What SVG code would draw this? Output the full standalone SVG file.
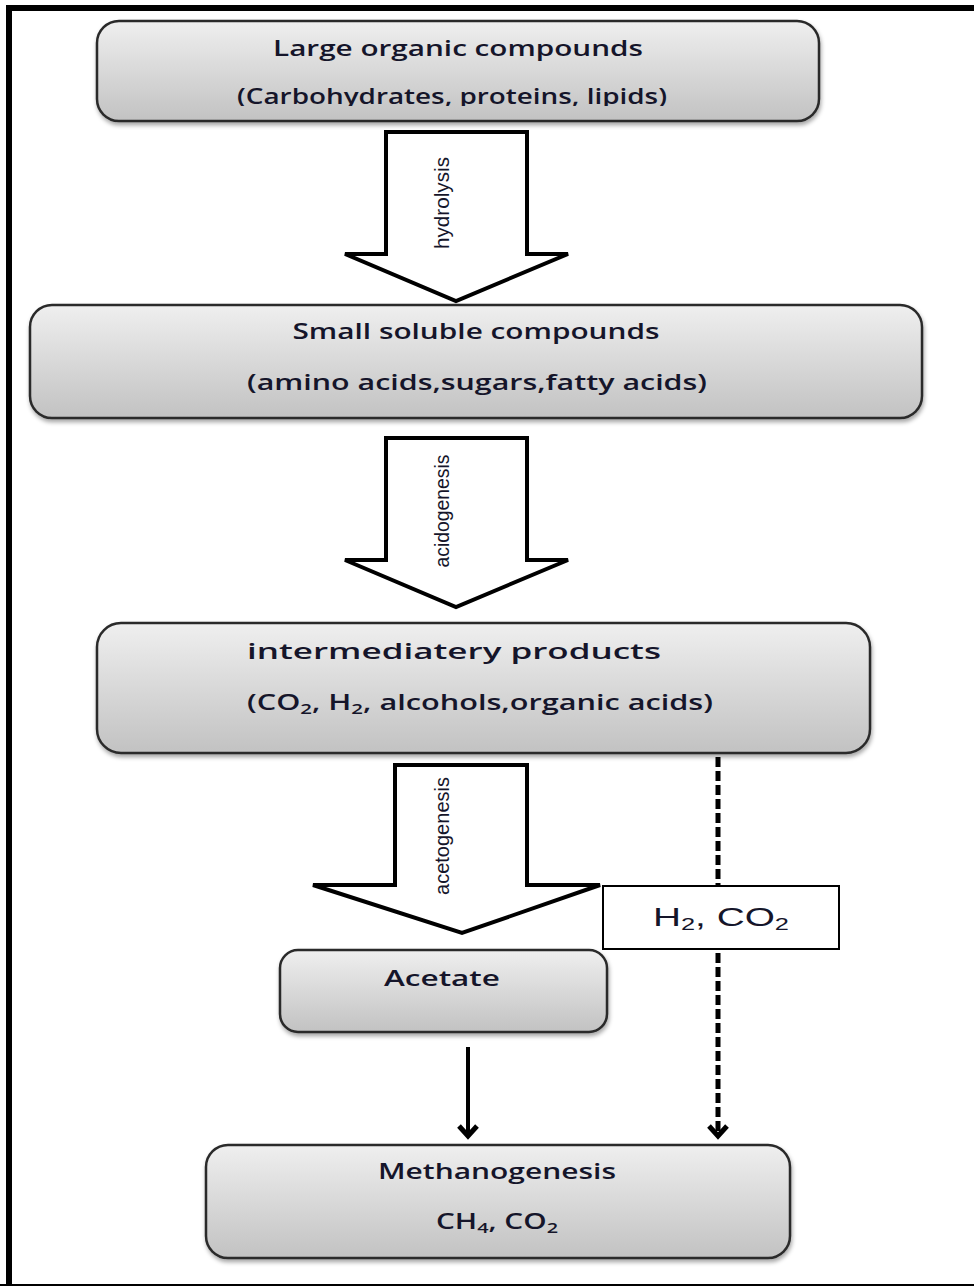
<svg xmlns="http://www.w3.org/2000/svg" width="974" height="1286" viewBox="0 0 974 1286">
<defs>
<linearGradient id="g" x1="0" y1="0" x2="0" y2="1">
<stop offset="0" stop-color="#efefef"/>
<stop offset="1" stop-color="#c2c2c2"/>
</linearGradient>
<filter id="sh" x="-5%" y="-10%" width="110%" height="130%">
<feDropShadow dx="1" dy="3" stdDeviation="2" flood-color="#000" flood-opacity="0.35"/>
</filter>
<clipPath id="clip1"><rect x="90" y="20" width="740" height="86"/></clipPath>
<style>
.box{fill:url(#g);stroke:#2b2b2b;stroke-width:2.5;filter:url(#sh)}
.t{font-family:"Open Sans","Liberation Sans",sans-serif;font-weight:600;font-size:21px;fill:#15152a;text-anchor:middle}
.v{font-family:"Liberation Sans","DejaVu Sans",sans-serif;font-size:20px;fill:#15152a;text-anchor:middle}
.blk{fill:#fff;stroke:#000;stroke-width:4;stroke-linejoin:miter}
.sub{font-size:14px}
.head{fill:none;stroke:#000;stroke-width:5;stroke-linejoin:miter}
</style>
</defs>
<rect x="0" y="0" width="974" height="1286" fill="#fff"/>
<g id="frame">
<path d="M9,1286 V8 H974" fill="none" stroke="#000" stroke-width="6"/>
<line x1="0" y1="1285" x2="974" y2="1285" stroke="#000" stroke-width="2"/>
</g>
<g id="connectors">
<g id="arrow-hydrolysis">
<path class="blk" d="M386,132 H527 V254 H568 L456,301 L345,254 H386 Z"/>
<text class="v" transform="translate(449,203) rotate(-90)" textLength="92" lengthAdjust="spacingAndGlyphs">hydrolysis</text>
</g>
<g id="arrow-acidogenesis">
<path class="blk" d="M386,438 H527 V560 H568 L456,607 L345,560 H386 Z"/>
<text class="v" transform="translate(449,511) rotate(-90)" textLength="113" lengthAdjust="spacingAndGlyphs">acidogenesis</text>
</g>
<g id="arrow-acetogenesis">
<path class="blk" d="M395,765 H527 V885 H600 L462,933 L313,885 H395 Z"/>
<text class="v" transform="translate(449,836) rotate(-90)" textLength="118" lengthAdjust="spacingAndGlyphs">acetogenesis</text>
</g>
<g id="dashed-arrow">
<line x1="718" y1="757" x2="718" y2="1136" stroke="#000" stroke-width="5" stroke-dasharray="10,4"/>
<path class="head" d="M709,1126 L718,1136 L727,1126"/>
</g>
<g id="solid-arrow">
<line x1="468" y1="1047" x2="468" y2="1136" stroke="#000" stroke-width="4"/>
<path class="head" d="M459,1126 L468,1136 L477,1126"/>
</g>
</g>
<g id="n1">
<rect class="box" x="97" y="21" width="722" height="100" rx="22"/>
<text class="t" x="458" y="56" textLength="370" lengthAdjust="spacingAndGlyphs">Large organic  compounds</text>
<text class="t" x="452" y="104" textLength="430" lengthAdjust="spacingAndGlyphs" clip-path="url(#clip1)">(Carbohydrates, proteins, lipids)</text>
</g>
<g id="n2">
<rect class="box" x="30" y="305" width="892" height="113" rx="22"/>
<text class="t" x="476" y="339" textLength="367" lengthAdjust="spacingAndGlyphs">Small soluble  compounds</text>
<text class="t" x="477" y="390" textLength="460" lengthAdjust="spacingAndGlyphs">(amino acids,sugars,fatty acids)</text>
</g>
<g id="n3">
<rect class="box" x="97" y="623" width="773" height="130" rx="24"/>
<text class="t" x="454" y="659" textLength="414" lengthAdjust="spacingAndGlyphs">intermediatery products</text>
<text class="t" x="480" y="710" textLength="466" lengthAdjust="spacingAndGlyphs">(CO<tspan class="sub" dy="4">2</tspan><tspan dy="-4">, H</tspan><tspan class="sub" dy="4">2</tspan><tspan dy="-4">, alcohols,organic   acids)</tspan></text>
</g>
<g id="n-h2co2">
<rect x="603" y="886" width="236" height="63" fill="#fff" stroke="#000" stroke-width="2"/>
<text x="721" y="926" font-family="'Liberation Sans',Arial,sans-serif" font-size="26" fill="#15152a" text-anchor="middle" textLength="136" lengthAdjust="spacingAndGlyphs">H<tspan font-size="17" dy="4">2</tspan><tspan dy="-4">,  CO</tspan><tspan font-size="17" dy="4">2</tspan></text>
</g>
<g id="n4">
<rect class="box" x="280" y="950" width="327" height="82" rx="18"/>
<text class="t" x="442" y="986" textLength="116" lengthAdjust="spacingAndGlyphs">Acetate</text>
</g>
<g id="n5">
<rect class="box" x="206" y="1145" width="584" height="113" rx="22"/>
<text class="t" x="497" y="1179" textLength="238" lengthAdjust="spacingAndGlyphs">Methanogenesis</text>
<text class="t" x="497" y="1229" textLength="122" lengthAdjust="spacingAndGlyphs">CH<tspan class="sub" dy="4">4</tspan><tspan dy="-4">, CO</tspan><tspan class="sub" dy="4">2</tspan></text>
</g>
</svg>
